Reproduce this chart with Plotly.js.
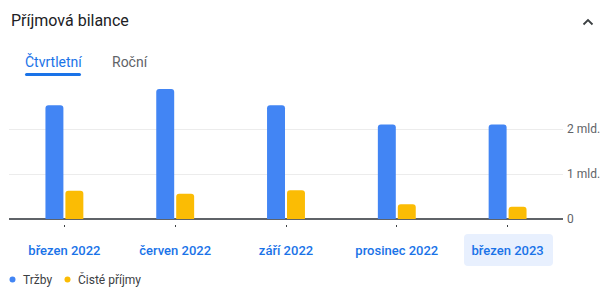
<!DOCTYPE html>
<html>
<head>
<meta charset="utf-8">
<script src="https://cdn.plot.ly/plotly-3.0.1.min.js"></script>
<style>html,body{margin:0;padding:0;background:#fff;}#chart{width:600px;height:292px;}</style>
</head>
<body>
<div id="chart"></div>
<script>
const categories = ["březen 2022", "červen 2022", "září 2022", "prosinec 2022", "březen 2023"];
const revenue = [2.53, 2.89, 2.53, 2.10, 2.10];      // Tržby (mld.)
const netIncome = [0.63, 0.56, 0.64, 0.33, 0.27];    // Čisté příjmy (mld.)
const yTickVals = [0, 1, 2];
const yTickText = ["0", "1 mld.", "2 mld."];
const seriesNames = ["Tržby", "Čisté příjmy"];
const titleText = "Příjmová bilance";
const tabLabels = ["Čtvrtletní", "Roční"];

const W = 600, H = 292, ML = 9, MR = 37, MT = 84, MB = 65;
const PW = W - ML - MR, PH = H - MT - MB;
const px = x => (x - ML) / PW;
const py = y => (H - MB - y) / PH;
const FONT = "Roboto, 'Open Sans', sans-serif";

function roundRect(x0, y0, x1, y1, r) {
  const X0 = px(x0), X1 = px(x1), Y0 = py(y0), Y1 = py(y1);
  const rx = r / PW, ry = r / PH;
  return `M ${X0+rx},${Y0} L ${X1-rx},${Y0} Q ${X1},${Y0} ${X1},${Y0-ry} L ${X1},${Y1+ry} Q ${X1},${Y1} ${X1-rx},${Y1} L ${X0+rx},${Y1} Q ${X0},${Y1} ${X0},${Y1+ry} L ${X0},${Y0-ry} Q ${X0},${Y0} ${X0+rx},${Y0} Z`;
}

const traces = [
  {type: "bar", x: categories, y: revenue, name: seriesNames[0], marker: {color: "#4285f4"}, hoverinfo: "skip"},
  {type: "bar", x: categories, y: netIncome, name: seriesNames[1], marker: {color: "#fbbc04"}, hoverinfo: "skip"}
];

const layout = {
  width: W, height: H,
  margin: {l: ML, r: MR, t: MT, b: MB, pad: 0},
  paper_bgcolor: "#fff", plot_bgcolor: "#fff",
  showlegend: false,
  barmode: "group", bargap: 0.64, bargroupgap: 0.1, barcornerradius: 3,
  font: {family: FONT},
  xaxis: {
    type: "category", range: [-0.5, 4.5], anchor: "free", position: 0,
    showline: false, showgrid: false, zeroline: false,
    ticks: "inside", ticklen: 2, tickwidth: 1, tickcolor: "#3c4043",
    tickfont: {family: FONT, size: 13, color: "#1a73e8", weight: 500},
    ticklabelstandoff: 14, fixedrange: true
  },
  yaxis: {
    domain: [8 / PH, 1], range: [0, 3], side: "right",
    tickvals: yTickVals, ticktext: yTickText,
    showgrid: true, gridcolor: "#ececec", gridwidth: 1,
    zeroline: true, zerolinecolor: "#5f6368", zerolinewidth: 1.5,
    showline: false, ticks: "",
    tickfont: {family: FONT, size: 12, color: "#5f6368"},
    ticklabelstandoff: 3, fixedrange: true
  },
  shapes: [
    {type: "path", xref: "paper", yref: "paper", layer: "below", path: roundRect(464, 234, 553, 266, 4), fillcolor: "#e8f0fe", line: {width: 0}},
    {type: "path", xref: "paper", yref: "paper", path: roundRect(25, 73, 81, 76, 1.5), fillcolor: "#1a73e8", line: {width: 0}},
    {type: "path", xref: "paper", yref: "paper", path: `M ${px(583.5)},${py(24.5)} L ${px(588)},${py(20)} L ${px(592.5)},${py(24.5)}`, line: {color: "#3c4043", width: 1.8}},
    {type: "circle", xref: "paper", yref: "paper", x0: px(9.5), x1: px(15.5), y0: py(276.5), y1: py(282.5), fillcolor: "#4285f4", line: {width: 0}},
    {type: "circle", xref: "paper", yref: "paper", x0: px(64.5), x1: px(70.5), y0: py(276.5), y1: py(282.5), fillcolor: "#fbbc04", line: {width: 0}}
  ],
  annotations: [
    {xref: "paper", yref: "paper", x: px(9), y: py(20.5), xanchor: "left", yanchor: "middle", showarrow: false, text: titleText, font: {family: FONT, size: 16, color: "#202124"}},
    {xref: "paper", yref: "paper", x: px(53.5), y: py(61.5), xanchor: "center", yanchor: "middle", showarrow: false, text: tabLabels[0], font: {family: FONT, size: 14, color: "#1a73e8"}},
    {xref: "paper", yref: "paper", x: px(129.5), y: py(61.5), xanchor: "center", yanchor: "middle", showarrow: false, text: tabLabels[1], font: {family: FONT, size: 14, color: "#5f6368"}},
    {xref: "paper", yref: "paper", x: px(21), y: py(279.5), xanchor: "left", yanchor: "middle", showarrow: false, text: seriesNames[0], font: {family: FONT, size: 12, color: "#3c4043"}},
    {xref: "paper", yref: "paper", x: px(76), y: py(279.5), xanchor: "left", yanchor: "middle", showarrow: false, text: seriesNames[1], font: {family: FONT, size: 12, color: "#3c4043"}}
  ]
};

Plotly.newPlot("chart", traces, layout, {displayModeBar: false, staticPlot: true});
</script>
</body>
</html>
